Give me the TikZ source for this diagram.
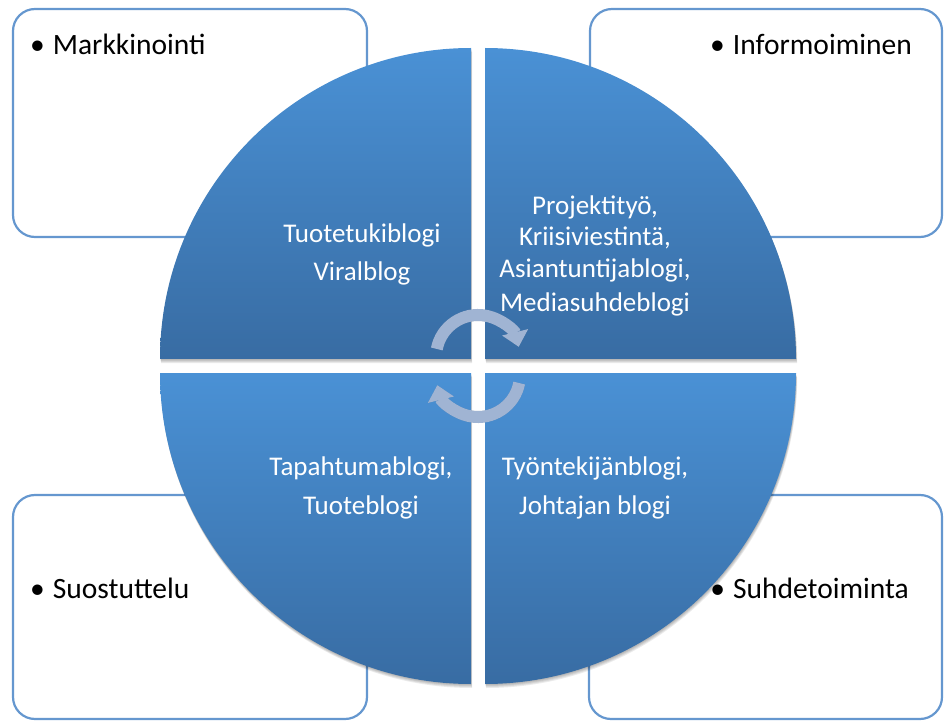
\documentclass[tikz,border=0pt]{standalone}
\usepackage{fontspec}
\setmainfont{Carlito}
\usetikzlibrary{arrows.meta}
\definecolor{qtop}{HTML}{4A91D5}
\definecolor{qbot}{HTML}{386CA3}
\definecolor{boxline}{HTML}{6597CF}
\definecolor{arrc}{HTML}{A0B4D3}
\tikzset{
  box/.style={draw=boxline, line width=2.2pt, rounded corners=22pt, fill=white},
  quad/.style={top color=qtop, bottom color=qbot},
  qshadow/.style={fill=black, opacity=0.08},
  wtext/.style={text=white, font=\fontsize{27}{31}\selectfont, anchor=base, inner sep=0pt},
  btext/.style={text=black, font=\fontsize{29.5}{33}\selectfont, inner sep=0pt},
  cyc/.style={draw=arrc, line width=12pt, -{Triangle[width=26pt,length=15pt]}},
  pTL/.style={insert path={(471,-359) -- ++(-311,0) arc[start angle=180,end angle=90,radius=311] -- cycle}},
  pTR/.style={insert path={(485,-359) -- ++(0,311) arc[start angle=90,end angle=0,radius=311] -- cycle}},
  pBL/.style={insert path={(471,-373) -- ++(-311,0) arc[start angle=180,end angle=270,radius=311] -- cycle}},
  pBR/.style={insert path={(485,-373) -- ++(311,0) arc[start angle=0,end angle=-90,radius=311] -- cycle}}
}
\begin{document}
\begin{tikzpicture}[x=1pt,y=1pt]
\useasboundingbox (0,0) rectangle (946,-722);
% corner boxes
\draw[box] (13,-9) rectangle (367,-237);
\draw[box] (590,-9) rectangle (942,-237);
\draw[box] (13,-495) rectangle (367,-719);
\draw[box] (589,-495) rectangle (942,-719);
% box texts
\node[btext, anchor=base west] (tm) at (30,-55) {•\hspace{8pt}Markkinointi};
\node[btext, anchor=base east] (ti) at (912,-55) {•\hspace{8pt}Informoiminen};
\node[btext, anchor=base west] (ts) at (30,-598) {•\hspace{8pt}Suostuttelu};
\node[btext, anchor=base east] (th) at (909,-598) {•\hspace{8pt}Suhdetoiminta};
% quadrant shadows
\foreach \s in {1,2,3,4}{
  \begin{scope}[yshift=-\s pt, xshift=0.3*\s pt]
    \fill[qshadow, pTL];
    \fill[qshadow, pTR];
    \fill[qshadow, pBL];
    \fill[qshadow, pBR];
  \end{scope}
}
% quadrants
\shade[quad, pTL];
\shade[quad, pTR];
\shade[quad, pBL];
\shade[quad, pBR];
% quadrant texts
\node[wtext] (a1) at (362,-243) {Tuotetukiblogi};
\node[wtext] (a2) at (362,-281) {Viralblog};
\node[wtext] (b1) at (595,-215) {Projektityö,};
\node[wtext] (b2) at (595,-246) {Kriisiviestintä,};
\node[wtext] (b3) at (595,-278) {Asiantuntijablogi,};
\node[wtext] (b4) at (595,-312) {Mediasuhdeblogi};
\node[wtext] (c1) at (361,-475) {Tapahtumablogi,};
\node[wtext] (c2) at (361,-514) {Tuoteblogi};
\node[wtext] (d1) at (595,-475) {Työntekijänblogi,};
\node[wtext] (d2) at (595,-514) {Johtajan blogi};
% cycle arrows
\coordinate (cu) at (478,-357);
\coordinate (cl) at (478,-375);
\draw[cyc, draw=black, opacity=0.12, yshift=-2pt] (cu) ++(169:42) arc[start angle=169,end angle=14,radius=42];
\draw[cyc, draw=black, opacity=0.12, yshift=-2pt] (cl) ++(-11:42) arc[start angle=-11,end angle=-166,radius=42];
\draw[cyc] (cu) ++(169:42) arc[start angle=169,end angle=14,radius=42];
\draw[cyc] (cl) ++(-11:42) arc[start angle=-11,end angle=-166,radius=42];
\end{tikzpicture}
\end{document}
